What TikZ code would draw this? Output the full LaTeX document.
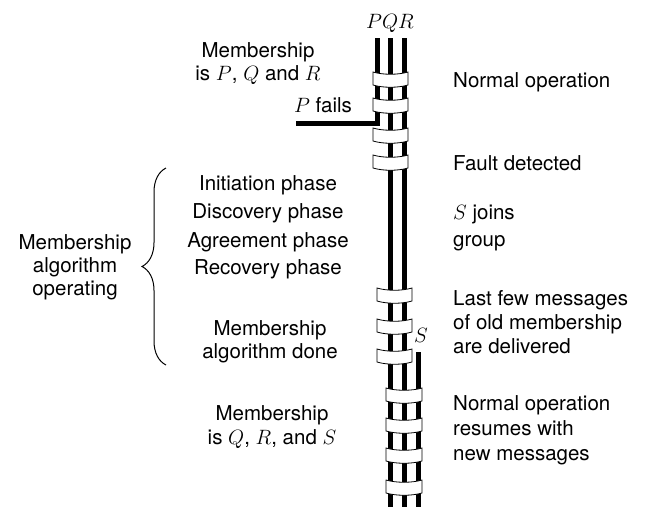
\documentclass[tikz,border=0pt]{standalone}
\usepackage{fontspec}
\setmainfont{TeX Gyre Heros}
\usetikzlibrary{decorations.pathreplacing}

% a message band wrapped round the process lines: left x, right x, top y
\newcommand\msgband[3]{%
  \path[band] (#1,#3) .. controls (#1+10,#3+3) and (#2-10,#3+3) .. (#2,#3)
    -- (#2,#3+13) .. controls (#2-10,#3+16) and (#1+10,#3+16) .. (#1,#3+13) -- cycle;}

\begin{document}
\begin{tikzpicture}[x=1pt,y=-1pt,
  lbl/.style={font=\fontsize{20.5}{24}\selectfont, inner sep=0pt, align=center},
  lblL/.style={lbl, anchor=base west, align=left},
  proc/.style={line width=5pt},
  band/.style={draw=black, fill=white, line width=0.8pt},
  bracestyle/.style={decorate, decoration={brace, amplitude=24pt}, line width=1pt}]
\useasboundingbox (0,0) rectangle (645,507);

% process lines
\coordinate (Ptop) at (377.5,38);
\coordinate (Pbend) at (377.5,123);
\coordinate (Pend) at (296,123);
\coordinate (Qtop) at (390.5,38);
\coordinate (Qbot) at (390.5,507);
\coordinate (Rtop) at (404.5,38);
\coordinate (Rbot) at (404.5,507);
\coordinate (Stop) at (418.5,352);
\coordinate (Sbot) at (418.5,507);
\draw[proc] (Ptop) -- (Pbend) -- (Pend);
\draw[proc] (Qtop) -- (Qbot);
\draw[proc] (Rtop) -- (Rbot);
\draw[proc] (Stop) -- (Sbot);

% messages with membership P, Q, R
\msgband{373}{408}{72}
\msgband{373}{408}{98}
\msgband{373}{408}{128}
\msgband{373}{408}{155}
% last messages of the old membership
\msgband{377}{412}{288}
\msgband{377}{412}{319}
\msgband{377}{412}{349}
% messages with membership Q, R, S
\msgband{386}{422}{388}
\msgband{386}{422}{418}
\msgband{386}{422}{448}
\msgband{386}{422}{480}

% labels on the lines
\node[lbl, anchor=base] (pqr) at (390,28) {$PQR$};
\node[lbl, anchor=base] (slab) at (421,342) {$S$};
\node[lbl, anchor=base] (pfails) at (323,112) {$P$ fails};

% left-hand texts
\node[lbl, anchor=base] (m1a) at (258,57) {Membership};
\node[lbl, anchor=base] (m1b) at (258,80) {is $P$, $Q$ and $R$};
\node[lbl, anchor=base] (ph1) at (268,190) {Initiation phase};
\node[lbl, anchor=base] (ph2) at (268,218) {Discovery phase};
\node[lbl, anchor=base] (ph3) at (268,247) {Agreement phase};
\node[lbl, anchor=base] (ph4) at (268,274) {Recovery phase};
\node[lbl, anchor=base] (done1) at (270,335) {Membership};
\node[lbl, anchor=base] (done2) at (270,358) {algorithm done};
\node[lbl, anchor=base] (m2a) at (272,420) {Membership};
\node[lbl, anchor=base] (m2b) at (272,444) {is $Q$, $R$, and $S$};
\node[lbl, anchor=base] (op1) at (75,249) {Membership};
\node[lbl, anchor=base] (op2) at (75,272) {algorithm};
\node[lbl, anchor=base] (op3) at (75,295) {operating};

% brace round the phases
\coordinate (brB) at (166,365);
\coordinate (brT) at (166,168);
\draw[bracestyle] (brB) -- (brT);

% right-hand texts
\node[lblL] (r1) at (453,87) {Normal operation};
\node[lblL] (r2) at (453,170) {Fault detected};
\node[lblL] (r3a) at (453,219) {$S$ joins};
\node[lblL] (r3b) at (453,246) {group};
\node[lblL] (r4a) at (453,305) {Last few messages};
\node[lblL] (r4b) at (453,329) {of old membership};
\node[lblL] (r4c) at (453,353) {are delivered};
\node[lblL] (r5a) at (453,410) {Normal operation};
\node[lblL] (r5b) at (453,435) {resumes with};
\node[lblL] (r5c) at (453,460) {new messages};
\end{tikzpicture}
\end{document}
